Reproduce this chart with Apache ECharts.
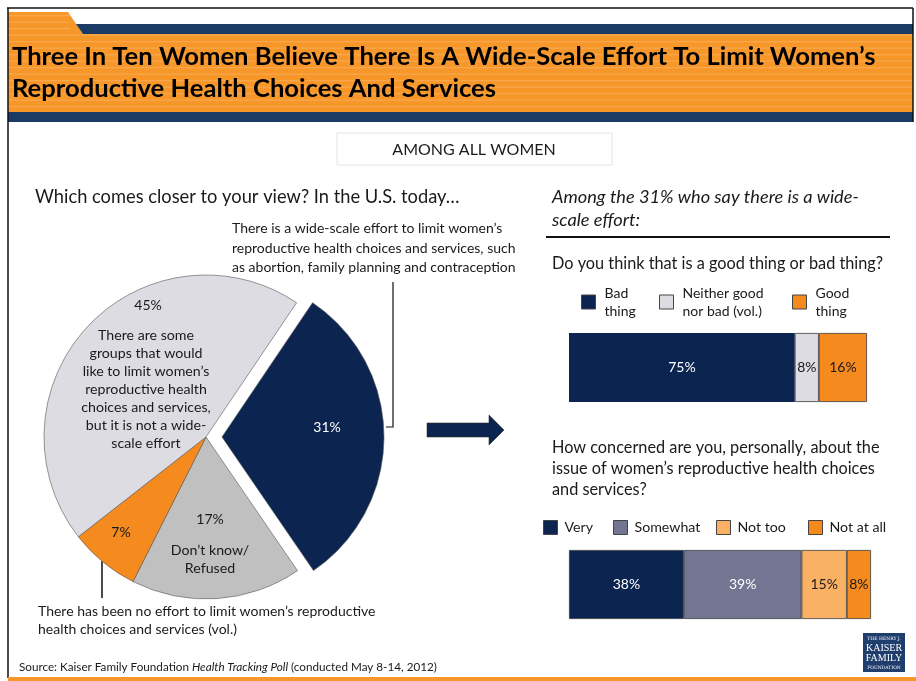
<!DOCTYPE html>
<html>
<head>
<meta charset="utf-8">
<style>
  html, body { margin: 0; padding: 0; background: #ffffff; }
  #chart { width: 916px; height: 681px; }
</style>
<script src="https://cdn.jsdelivr.net/npm/echarts@6/dist/echarts.min.js"></script>
</head>
<body>
<div id="chart"></div>
<script>
// Survey results: views on efforts to limit women's reproductive health choices
const pieCategories = [
  'There is a wide-scale effort',
  "Don't know/Refused",
  'There has been no effort',
  'Some groups, but not a wide-scale effort'
];
const pieValues = [31, 17, 7, 45];

const goodBadCategories = ['Bad thing', 'Neither good nor bad (vol.)', 'Good thing'];
const goodBadValues = [75, 8, 16];

const concernCategories = ['Very', 'Somewhat', 'Not too', 'Not at all'];
const concernValues = [38, 39, 15, 8];

const NAVY = '#0b2450';
const HEADER_NAVY = '#1b3a64';
const ORANGE = '#f58a1f';
const HEADER_ORANGE = '#f7972a';
const FONT = 'Lato, "Open Sans", sans-serif';
const TEXT = '#1a1a1a';

const pieColors = [NAVY, '#c0c0c0', ORANGE, '#dcdce2'];
const goodBadColors = [NAVY, '#dcdce2', ORANGE];
const goodBadLabelColors = ['#ffffff', TEXT, TEXT];
const concernColors = [NAVY, '#727692', '#fbb163', ORANGE];
const concernLabelColors = ['#ffffff', '#ffffff', TEXT, TEXT];

const sum = arr => arr.reduce((a, b) => a + b, 0);

function txt(text, x, y, size, opts) {
  opts = opts || {};
  return {
    type: 'text',
    silent: true,
    z: 10,
    style: Object.assign({
      text: text, x: x, y: y,
      fontSize: size, fontFamily: FONT,
      fill: TEXT,
      align: 'left', verticalAlign: 'middle',
      textAlign: 'left', textVerticalAlign: 'middle'
    }, opts)
  };
}

// header decoration
const header = [];
header.push({ type: 'polygon', silent: true, shape: { points: [[8, 12], [68, 12], [83, 34], [8, 34]] }, style: { fill: HEADER_ORANGE } });
header.push({ type: 'polygon', silent: true, shape: { points: [[76, 24], [913, 24], [913, 34], [83, 34]] }, style: { fill: HEADER_NAVY } });
header.push({ type: 'rect', silent: true, shape: { x: 8, y: 34, width: 905, height: 78 }, style: { fill: HEADER_ORANGE } });
for (let y = 15; y < 112; y += 6.5) {
  if (y < 34) {
    header.push({ type: 'rect', silent: true, shape: { x: 8, y: y, width: 62, height: 1.2 }, style: { fill: 'rgba(255,255,255,0.16)' } });
  } else {
    header.push({ type: 'rect', silent: true, shape: { x: 8, y: y, width: 905, height: 1.2 }, style: { fill: 'rgba(255,255,255,0.16)' } });
  }
}
header.push({ type: 'rect', silent: true, shape: { x: 8, y: 112, width: 905, height: 10 }, style: { fill: HEADER_NAVY } });
// frame
header.push({ type: 'line', silent: true, shape: { x1: 7, y1: 8, x2: 913, y2: 8 }, style: { stroke: '#111', lineWidth: 1.5 } });
header.push({ type: 'line', silent: true, shape: { x1: 8, y1: 8, x2: 8, y2: 678 }, style: { stroke: '#111', lineWidth: 1.5 } });
header.push({ type: 'line', silent: true, shape: { x1: 913, y1: 8, x2: 913, y2: 122 }, style: { stroke: '#111', lineWidth: 1.5 } });
header.push({ type: 'rect', silent: true, shape: { x: 8, y: 677, width: 908, height: 4 }, style: { fill: HEADER_ORANGE } });

const titleLines = [
  'Three In Ten Women Believe There Is A Wide-Scale Effort To Limit Women\u2019s',
  'Reproductive Health Choices And Services'
];

const texts = [
  txt(titleLines[0], 12, 57, 25.6, { fontWeight: 'bold', fill: '#000' }),
  txt(titleLines[1], 12, 89, 25.6, { fontWeight: 'bold', fill: '#000' }),
  { type: 'rect', silent: true, shape: { x: 337, y: 133, width: 275, height: 32 }, style: { fill: '#fff', stroke: '#e4e4e4', lineWidth: 1 } },
  txt('AMONG ALL WOMEN', 474, 150, 16, { align: 'center', textAlign: 'center' }),
  txt('Which comes closer to your view? In the U.S. today\u2026', 35, 197, 18.3),
  txt('There is a wide-scale effort to limit women\u2019s\nreproductive health choices and services, such\nas abortion, family planning and contraception', 232, 248, 14, { lineHeight: 19.5 }),
  // callout leader lines
  { type: 'polyline', silent: true, shape: { points: [[393, 282], [393, 427], [386, 427]] }, style: { stroke: '#111', lineWidth: 1.2, fill: null } },
  { type: 'line', silent: true, shape: { x1: 102, y1: 561, x2: 102, y2: 598 }, style: { stroke: '#111', lineWidth: 1.5 } },
  // pie slice labels
  txt(pieValues[3] + '%', 148, 305, 14, { align: 'center', textAlign: 'center' }),
  txt('There are some\ngroups that would\nlike to limit women\u2019s\nreproductive health\nchoices and services,\nbut it is not a wide-\nscale effort', 146, 389, 14.2, { align: 'center', textAlign: 'center', lineHeight: 18 }),
  txt(pieValues[0] + '%', 327, 427, 14, { align: 'center', textAlign: 'center', fill: '#fff' }),
  txt(pieValues[1] + '%', 210, 519, 14, { align: 'center', textAlign: 'center' }),
  txt('Don\u2019t know/\nRefused', 210, 559, 14.2, { align: 'center', textAlign: 'center', lineHeight: 18 }),
  txt(pieValues[2] + '%', 121, 532, 14, { align: 'center', textAlign: 'center' }),
  txt('There has been no effort to limit women\u2019s reproductive\nhealth choices and services (vol.)', 38, 620, 14, { lineHeight: 18 }),
  // arrow
  { type: 'polygon', silent: true, shape: { points: [[427, 423], [489, 423], [489, 415], [504, 430], [489, 445], [489, 437], [427, 437]] }, style: { fill: NAVY, stroke: '#333', lineWidth: 0.6 } },
  // right panel
  txt('Among the 31% who say there is a wide-\nscale effort:', 552, 208.5, 18.2, { fontStyle: 'italic', lineHeight: 23 }),
  { type: 'line', silent: true, shape: { x1: 546, y1: 237, x2: 890, y2: 237 }, style: { stroke: '#111', lineWidth: 2 } },
  txt('Do you think that is a good thing or bad thing?', 552, 264, 16.3),
  txt('How concerned are you, personally, about the\nissue of women\u2019s reproductive health choices\nand services?', 552, 469, 16.3, { lineHeight: 21 }),
  // source
  {
    type: 'text', silent: true, z: 10,
    style: {
      text: 'Source: Kaiser Family Foundation {i|Health Tracking Poll} (conducted May 8-14, 2012)',
      x: 19, y: 667, fontSize: 11.7, fontFamily: FONT, fill: TEXT,
      verticalAlign: 'middle', textVerticalAlign: 'middle',
      rich: { i: { fontStyle: 'italic', fontSize: 11.7, fontFamily: FONT, fill: TEXT } }
    }
  },
  // foundation logo
  { type: 'rect', silent: true, shape: { x: 863, y: 633, width: 42, height: 39 }, style: { fill: '#1f3d6d' } },
  txt('THE HENRY J.', 884, 638.5, 4.5, { align: 'center', textAlign: 'center', fill: '#fff', fontFamily: '"DejaVu Serif", serif' }),
  txt('KAISER', 884, 648, 10, { align: 'center', textAlign: 'center', fill: '#fff', fontFamily: '"Liberation Serif", serif' }),
  txt('FAMILY', 884, 658, 10, { align: 'center', textAlign: 'center', fill: '#fff', fontFamily: '"Liberation Serif", serif' }),
  txt('FOUNDATION', 884, 667.5, 4.5, { align: 'center', textAlign: 'center', fill: '#fff', fontFamily: '"DejaVu Serif", serif' })
];

// legends: one legend per entry so each swatch sits at its own spot
const legendSpots1 = [581, 659, 792];
const legendSpots2 = [543, 613, 716, 808];
const wrap1 = { 'Bad thing': 'Bad\nthing', 'Neither good nor bad (vol.)': 'Neither good\nnor bad (vol.)', 'Good thing': 'Good\nthing' };

const legends = [];
goodBadCategories.forEach((name, i) => {
  legends.push({
    data: [name], left: legendSpots1[i], top: 284, padding: 0,
    icon: 'rect', itemWidth: 14, itemHeight: 14, itemGap: 0, selectedMode: false,
    itemStyle: { borderColor: '#444', borderWidth: 1 },
    formatter: n => wrap1[n],
    textStyle: { fontFamily: FONT, fontSize: 14, color: TEXT, lineHeight: 18, padding: [0, 0, 0, 4] }
  });
});
concernCategories.forEach((name, i) => {
  legends.push({
    data: [name], left: legendSpots2[i], top: 520, padding: 0,
    icon: 'rect', itemWidth: 14, itemHeight: 14, itemGap: 0, selectedMode: false,
    itemStyle: { borderColor: '#444', borderWidth: 1 },
    textStyle: { fontFamily: FONT, fontSize: 14.2, color: TEXT, padding: [0, 0, 0, 2] }
  });
});

const barSeries = [];
goodBadCategories.forEach((name, i) => {
  barSeries.push({
    type: 'bar', name: name, stack: 'gb', xAxisIndex: 0, yAxisIndex: 0,
    barWidth: 69, data: [goodBadValues[i]],
    itemStyle: { color: goodBadColors[i], borderColor: '#3a3a3a', borderWidth: i === 0 ? 0 : 0.8 },
    label: { show: true, position: 'inside', formatter: '{c}%', color: goodBadLabelColors[i], fontFamily: FONT, fontSize: 14 },
    emphasis: { disabled: true }
  });
});
concernCategories.forEach((name, i) => {
  barSeries.push({
    type: 'bar', name: name, stack: 'cc', xAxisIndex: 1, yAxisIndex: 1,
    barWidth: 69, data: [concernValues[i]],
    itemStyle: { color: concernColors[i], borderColor: '#3a3a3a', borderWidth: 0.8 },
    label: { show: true, position: 'inside', formatter: '{c}%', color: concernLabelColors[i], fontFamily: FONT, fontSize: 14 },
    emphasis: { disabled: true }
  });
});

const chart = echarts.init(document.getElementById('chart'), null, { renderer: 'canvas' });
chart.setOption({
  animation: false,
  backgroundColor: '#ffffff',
  legend: legends,
  grid: [
    { left: 569, top: 333, width: 298, height: 69 },
    { left: 569, top: 550, width: 302, height: 69 }
  ],
  xAxis: [
    { type: 'value', gridIndex: 0, min: 0, max: sum(goodBadValues), show: false },
    { type: 'value', gridIndex: 1, min: 0, max: sum(concernValues), show: false }
  ],
  yAxis: [
    { type: 'category', gridIndex: 0, data: ['Good or bad'], show: false },
    { type: 'category', gridIndex: 1, data: ['Concern'], show: false }
  ],
  series: [
    {
      type: 'pie',
      name: 'Views',
      center: [206, 437],
      radius: [0, 162],
      startAngle: 56,
      clockwise: true,
      selectedMode: 'single',
      selectedOffset: 16,
      label: { show: false },
      labelLine: { show: false },
      emphasis: { disabled: true, scale: false },
      itemStyle: { borderColor: '#555', borderWidth: 0.6 },
      data: pieCategories.map((c, i) => ({
        name: c, value: pieValues[i], selected: i === 0,
        itemStyle: { color: pieColors[i] }
      }))
    }
  ].concat(barSeries),
  graphic: header.concat(texts)
});
</script>
</body>
</html>
